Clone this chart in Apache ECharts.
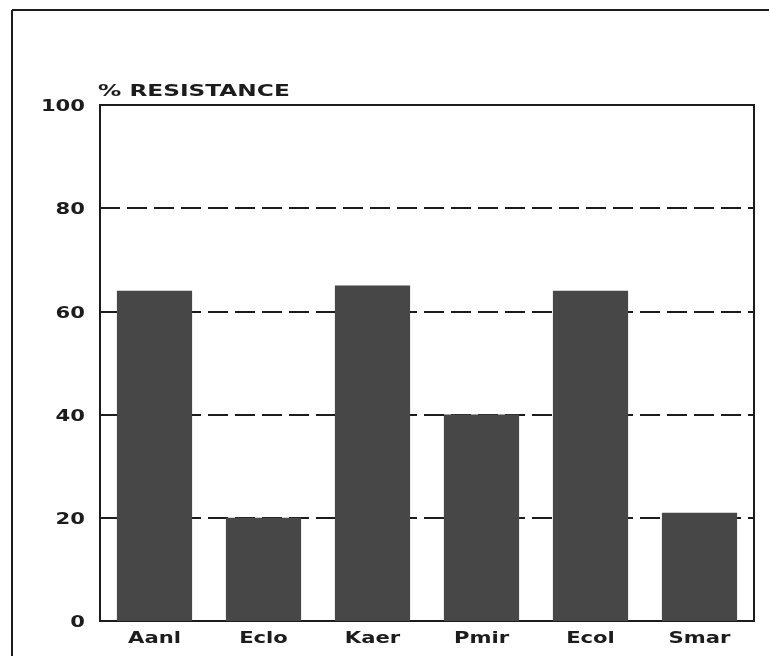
<!DOCTYPE html>
<html>
<head>
<meta charset="utf-8">
<style>
  html, body { margin: 0; padding: 0; background: #ffffff; }
  #chart { width: 769px; height: 656px; }
</style>
<script src="https://cdn.jsdelivr.net/npm/echarts@6/dist/echarts.min.js"></script>
</head>
<body>
<div id="chart"></div>
<script>
// Organisms and their percentage resistance
const categories = ['Aanl', 'Eclo', 'Kaer', 'Pmir', 'Ecol', 'Smar'];
const resistance = [64, 20, 65, 40, 64, 21];
const yTicks = [0, 20, 40, 60, 80, 100];
const axisTitle = '% RESISTANCE';

const FONT = '"DejaVu Sans", "Liberation Sans", sans-serif';
const INK = '#1c1c1c';
// the lettering is a wide, extended bold face: stretch DejaVu Sans Bold horizontally
const LABEL_FONT = 'bold 16px ' + FONT;
const LABEL_STRETCH = 1.32;

const chart = echarts.init(document.getElementById('chart'), null, { renderer: 'canvas' });

chart.setOption({
  backgroundColor: '#ffffff',
  animation: false,
  grid: {
    left: 100, right: 15, top: 105, bottom: 35,
    show: true, borderColor: INK, borderWidth: 2, backgroundColor: 'transparent'
  },
  xAxis: {
    type: 'category',
    data: categories,
    axisLine: { show: true, lineStyle: { color: INK, width: 2 } },
    axisTick: { show: false },
    axisLabel: { show: false }
  },
  yAxis: {
    type: 'value',
    min: yTicks[0],
    max: yTicks[yTicks.length - 1],
    interval: yTicks[1] - yTicks[0],
    axisLine: { show: true, lineStyle: { color: INK, width: 2 } },
    axisTick: { show: false },
    axisLabel: { show: false },
    splitLine: {
      show: true,
      lineStyle: { color: INK, width: 2, type: [20, 7] }
    }
  },
  series: [{
    type: 'bar',
    data: resistance,
    barCategoryGap: '31%',
    itemStyle: { color: '#474747' }
  }]
});

// Tick labels placed with the axes' own scales, drawn as stretched text
const graphics = [
  // outer frame (top and left edges)
  { type: 'line', shape: { x1: 12, y1: 10, x2: 769, y2: 10 },
    style: { stroke: INK, lineWidth: 2 } },
  { type: 'line', shape: { x1: 12, y1: 10, x2: 12, y2: 656 },
    style: { stroke: INK, lineWidth: 2 } },
  // axis title
  { type: 'text', x: 98, y: 92, scaleX: 1.55, originX: 0, originY: 0,
    style: { text: axisTitle, fill: INK, font: 'bold 15px ' + FONT,
             textAlign: 'left', textVerticalAlign: 'middle' } }
];

yTicks.forEach(function (v) {
  const py = chart.convertToPixel({ yAxisIndex: 0 }, v);
  graphics.push({
    type: 'text', x: 85, y: py + 2, scaleX: LABEL_STRETCH, originX: 0, originY: 0,
    style: { text: String(v), fill: INK, font: LABEL_FONT,
             textAlign: 'right', textVerticalAlign: 'middle' }
  });
});

categories.forEach(function (c) {
  const px = chart.convertToPixel({ xAxisIndex: 0 }, c);
  graphics.push({
    type: 'text', x: px, y: 639, scaleX: LABEL_STRETCH, originX: 0, originY: 0,
    style: { text: c, fill: INK, font: LABEL_FONT,
             textAlign: 'center', textVerticalAlign: 'middle' }
  });
});

chart.setOption({ graphic: graphics });
</script>
</body>
</html>
